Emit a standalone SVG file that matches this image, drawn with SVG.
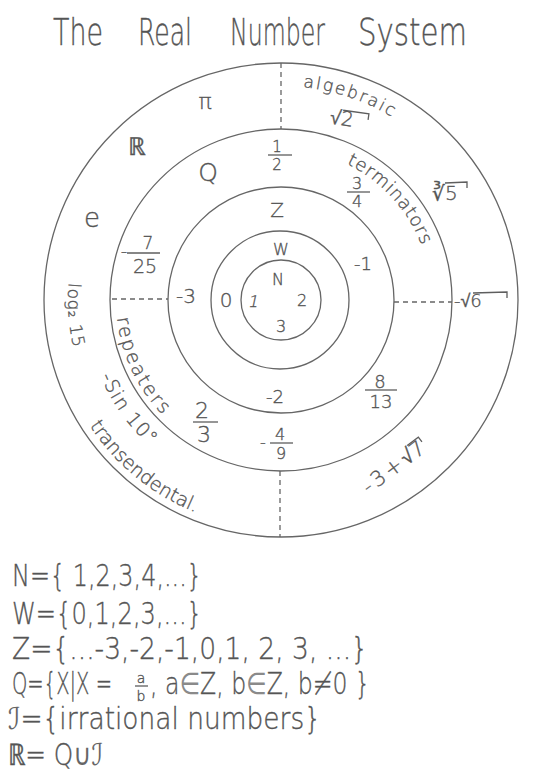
<svg xmlns="http://www.w3.org/2000/svg" width="538" height="776" viewBox="0 0 538 776">
<style>
.c{fill:none;stroke:#666;stroke-width:1.3}
.d{stroke:#666;stroke-width:1.3;stroke-dasharray:5 4;fill:none}
.b{stroke:#5e5e5e;stroke-width:1.3;fill:none}
text{font-family:"DejaVu Sans","Liberation Sans",sans-serif;fill:#555;stroke:#555;stroke-width:0.35;font-weight:200}
.m{text-anchor:middle}
.s{font-weight:400;stroke-width:0;fill:#666}
.e{font-weight:400;stroke-width:0;fill:#8a8a8a}
</style>
<defs>
<path id="p-alg" d="M281,86 A214,214 0 0 1 466.3,193"/>
<path id="p-term" d="M332.6,158.1 A151,151 0 0 1 432,300"/>
<path id="p-log" d="M69.2,277.7 A213,213 0 0 0 96.5,406.5"/>
<path id="p-rep" d="M116.1,305.8 A165,165 0 0 0 198.5,442.9"/>
<path id="p-sin" d="M96.8,367 A196,196 0 0 0 214,484.2"/>
<path id="p-tra" d="M82.7,414.5 A229,229 0 0 0 241.2,525.5"/>
</defs>
<rect width="538" height="776" fill="#ffffff"/>

<g id="title">
<text x="53" y="45" font-size="38" textLength="50" lengthAdjust="spacingAndGlyphs">The</text>
<text x="138" y="45" font-size="38" textLength="54" lengthAdjust="spacingAndGlyphs">Real</text>
<text x="230" y="45" font-size="38" textLength="95" lengthAdjust="spacingAndGlyphs">Number</text>
<text x="358" y="45" font-size="38" textLength="109" lengthAdjust="spacingAndGlyphs">System</text>
</g>

<g id="real">
<circle class="c" cx="281" cy="300" r="237"/>
<text class="m" x="205" y="109" font-size="22">π</text>
<text class="m" x="137" y="155" font-size="25">ℝ</text>
<text class="m" x="92" y="227" font-size="26">e</text>
<text font-size="17" letter-spacing="2"><textPath href="#p-alg" startOffset="22">algebraic</textPath></text>
<text font-size="19"><textPath href="#p-tra" startOffset="13">transendental.</textPath></text>
<text font-size="17" letter-spacing="1"><textPath href="#p-log" startOffset="5">log₂ 15</textPath></text>
<text font-size="19" letter-spacing="1.4"><textPath href="#p-sin" startOffset="10">-Sin 10°</textPath></text>
<g transform="rotate(8 348 119)">
<text x="330" y="126" font-size="20">√2</text>
<path class="b" d="M342,111 L368,111 L368,117"/>
</g>
<text x="432" y="200" font-size="20">∛5</text>
<path class="b" d="M445,183 L467,182 L467,188"/>
<text x="454" y="307" font-size="18">-√6</text>
<path class="b" d="M473,293 L507,292 L507,298"/>
<g transform="translate(395,466) rotate(-37)">
<text x="-38" y="7" font-size="21"><tspan letter-spacing="3">-3+</tspan>√7</text>
<path class="b" d="M22,-9 L36,-9 L36,-3"/>
</g>
</g>

<g id="rational">
<circle class="c" cx="281" cy="300" r="171"/>
<text class="m" x="208" y="181" font-size="25">Q</text>
<text font-size="18" letter-spacing="0.8"><textPath href="#p-term" startOffset="15">terminators</textPath></text>
<text font-size="19" letter-spacing="2.2"><textPath href="#p-rep" startOffset="12">repeaters</textPath></text>
<text class="m" x="277" y="152" font-size="15">1</text>
<path class="b" d="M268,155 H292"/>
<text class="m" x="277" y="170" font-size="15">2</text>
<text class="m" x="357" y="189" font-size="16">3</text>
<path class="b" d="M347,192 H370"/>
<text class="m" x="357" y="207" font-size="16">4</text>
<text class="m" x="124" y="257" font-size="18">-</text>
<text class="m" x="148" y="249" font-size="17">7</text>
<path class="b" d="M127,253 H160"/>
<text class="m" x="145" y="273" font-size="19">25</text>
<text class="m" x="202" y="418" font-size="22">2</text>
<path class="b" d="M193,422 H218"/>
<text class="m" x="204" y="442" font-size="22">3</text>
<text class="m" x="380" y="388" font-size="18">8</text>
<path class="b" d="M365,390 H397"/>
<text class="m" x="381" y="408" font-size="18">13</text>
<text class="m" x="263" y="448" font-size="16">-</text>
<text class="m" x="280" y="440" font-size="16">4</text>
<path class="b" d="M270,443 H293"/>
<text class="m" x="281" y="459" font-size="16">9</text>
</g>

<g id="integers">
<circle class="c" cx="281" cy="300" r="113"/>
<text class="m" x="277" y="217" font-size="20">Z</text>
<text class="m" x="186" y="303" font-size="20">-3</text>
<text class="m" x="363" y="270" font-size="18">-1</text>
<text class="m" x="275" y="403" font-size="18">-2</text>
</g>

<g id="whole">
<circle class="c" cx="280" cy="300" r="69"/>
<text class="m" x="281" y="255" font-size="16">W</text>
<text class="m" x="226" y="307" font-size="20">0</text>
</g>

<g id="natural">
<circle class="c" cx="281" cy="300" r="40"/>
<text class="m" x="278" y="285" font-size="16">N</text>
<text class="m" x="253" y="307" font-size="16" transform="skewX(-12) translate(65,0)">1</text>
<text class="m" x="302" y="306" font-size="16">2</text>
<text class="m" x="281" y="332" font-size="16">3</text>
</g>

<g id="connectors">
<path class="d" d="M281,63 V129"/>
<path class="d" d="M112,299 H168"/>
<path class="d" d="M394,302 H452"/>
<path class="d" d="M280,471 V537"/>
</g>

<g id="definitions">
<text x="12" y="586" font-size="30" textLength="190" lengthAdjust="spacingAndGlyphs">N={ 1,2,3,4,...}</text>
<text x="12" y="624" font-size="30" textLength="190" lengthAdjust="spacingAndGlyphs">W={0,1,2,3,...}</text>
<text x="12" y="659" font-size="30" textLength="356" lengthAdjust="spacingAndGlyphs">Z={...-3,-2,-1,0,1, 2, 3, ...}</text>
<text x="12" y="694" font-size="30" textLength="100" lengthAdjust="spacingAndGlyphs">Q={X|X =</text>
<text class="m" x="141" y="683" font-size="14">a</text>
<path class="b" d="M135,686 H148"/>
<text class="m" x="141" y="701" font-size="14">b</text>
<text x="150" y="694" font-size="30" textLength="220" lengthAdjust="spacingAndGlyphs">, a<tspan class="e">∈</tspan>Z, b<tspan class="e">∈</tspan>Z, b≠0 }</text>
<text x="8" y="729" font-size="30" textLength="313" lengthAdjust="spacingAndGlyphs"><tspan class="s">ℐ</tspan>={irrational numbers}</text>
<text x="8" y="765" font-size="30" textLength="95" lengthAdjust="spacingAndGlyphs">ℝ= Q<tspan class="s">∪ℐ</tspan></text>
</g>
</svg>
